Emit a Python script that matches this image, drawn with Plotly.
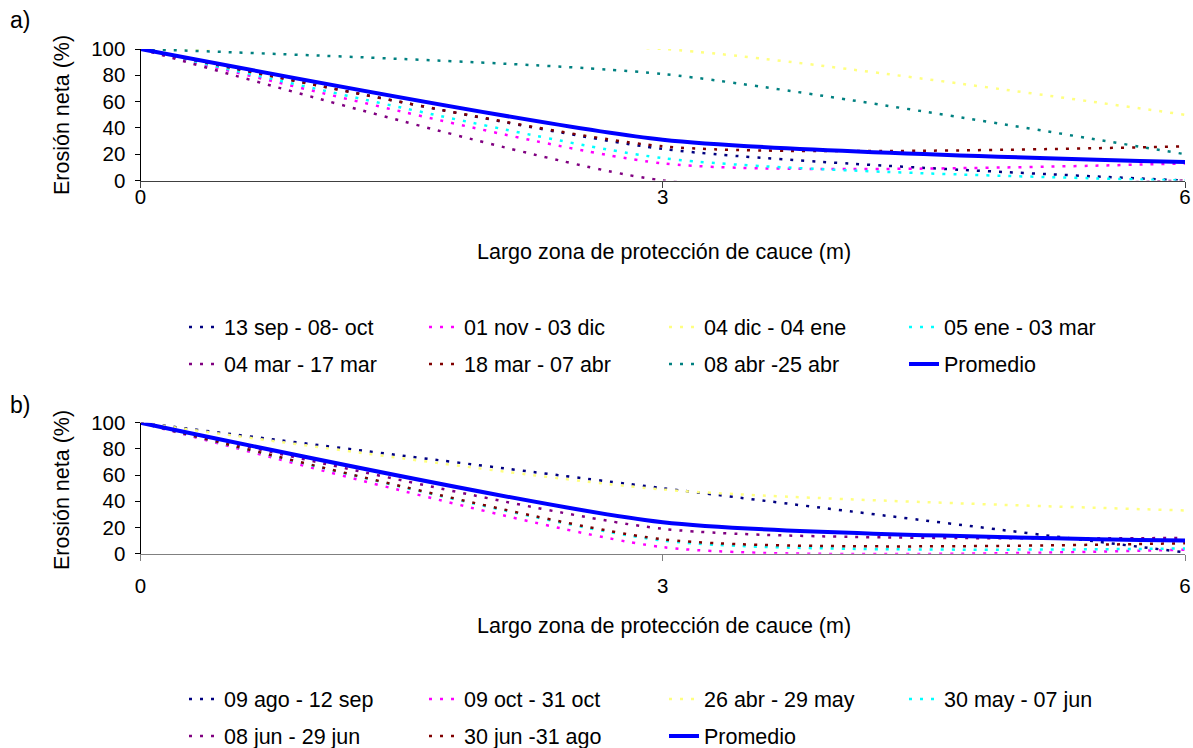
import plotly.graph_objects as go

# ---- data -------------------------------------------------------------
largo_m = [0, 3, 6]

# panel a) series (% net erosion)
a_names = ["13 sep - 08- oct", "01 nov - 03 dic", "04 dic - 04 ene", "05 ene - 03 mar",
           "04 mar - 17 mar", "18 mar - 07 abr", "08 abr -25 abr"]
a_13sep_08oct = [100, 24, 0]
a_01nov_03dic = [100, 13, 13]
a_04dic_04ene = [100, 100, 50]
a_05ene_03mar = [100, 17, 0]
a_04mar_17mar = [100, 0, 0]
a_18mar_07abr = [100, 26, 26]
a_08abr_25abr = [100, 81, 20]
a_promedio = [100, 31, 14]

# panel b) series
b_names = ["09 ago - 12 sep", "09 oct - 31 oct", "26 abr - 29 may", "30 may - 07 jun",
           "08 jun - 29 jun", "30 jun -31 ago"]
b_09ago_12sep = [100, 50, 1]
b_09oct_31oct = [100, 5, 3]
b_26abr_29may = [100, 49, 33]
b_30may_07jun = [100, 10, 4]
b_08jun_29jun = [100, 19, 12]
b_30jun_31ago = [100, 11, 8]
b_promedio = [100, 24, 10]

x_ticks = [0, 3, 6]
y_ticks = [0, 20, 40, 60, 80, 100]

# ---- styling ----------------------------------------------------------
W, H = 1193, 748
FONT = "Liberation Sans, Arial, sans-serif"
a_colors = ["#000080", "#FF00FF", "#FFFF80", "#00FFFF", "#800080", "#800000", "#008080"]
b_colors = ["#000080", "#FF00FF", "#FFFF80", "#00FFFF", "#800080", "#800000"]
DOT = "3px,8px"
SMOOTH = 0.6


def fx(p):
    return p / W


def fy(p):
    return 1 - p / H


fig = go.Figure()

a_series = [a_13sep_08oct, a_01nov_03dic, a_04dic_04ene, a_05ene_03mar,
            a_04mar_17mar, a_18mar_07abr, a_08abr_25abr]
b_series = [b_09ago_12sep, b_09oct_31oct, b_26abr_29may, b_30may_07jun,
            b_08jun_29jun, b_30jun_31ago]

# legend rows: a) row 1 = first four, row 2 = rest + Promedio
for i, (name, vals, col) in enumerate(zip(a_names, a_series, a_colors)):
    fig.add_trace(go.Scatter(
        x=largo_m, y=vals, name=name, mode="lines", xaxis="x", yaxis="y",
        line=dict(color=col, width=2.5, dash=DOT, shape="spline", smoothing=SMOOTH),
        legend="legend" if i < 4 else "legend2"))
fig.add_trace(go.Scatter(
    x=largo_m, y=a_promedio, name="Promedio", mode="lines", xaxis="x", yaxis="y",
    line=dict(color="#0000FF", width=4, shape="spline", smoothing=SMOOTH), legend="legend2"))

for i, (name, vals, col) in enumerate(zip(b_names, b_series, b_colors)):
    fig.add_trace(go.Scatter(
        x=largo_m, y=vals, name=name, mode="lines", xaxis="x2", yaxis="y2",
        line=dict(color=col, width=2.5, dash=DOT, shape="spline", smoothing=SMOOTH),
        legend="legend3" if i < 4 else "legend4"))
fig.add_trace(go.Scatter(
    x=largo_m, y=b_promedio, name="Promedio", mode="lines", xaxis="x2", yaxis="y2",
    line=dict(color="#0000FF", width=4, shape="spline", smoothing=SMOOTH), legend="legend4"))

x_dom = [fx(140.5), fx(1185)]
xaxis_common = dict(range=[0, 6], tickvals=x_ticks, ticks="outside", ticklen=6,
                    showgrid=False, zeroline=False, showline=True, linewidth=1,
                    tickfont=dict(size=20.5, color="black", family=FONT), domain=x_dom,
                    fixedrange=True)
yaxis_common = dict(range=[0, 100], tickvals=y_ticks, ticks="outside", ticklen=5,
                    showgrid=False, zeroline=False, showline=True, linewidth=1,
                    linecolor="black", tickcolor="black",
                    tickfont=dict(size=20.5, color="black", family=FONT),
                    ticklabelstandoff=5, fixedrange=True)


def legend_row(x_px, y_px):
    return dict(orientation="h", x=fx(x_px), xanchor="left", y=fy(y_px), yanchor="middle",
                entrywidth=195, entrywidthmode="pixels", bgcolor="rgba(0,0,0,0)",
                borderwidth=0, font=dict(size=21.5, color="black", family=FONT),
                traceorder="normal")


fig.update_layout(
    width=W, height=H, margin=dict(l=0, r=0, t=0, b=0, autoexpand=False),
    paper_bgcolor="white", plot_bgcolor="white", showlegend=True,
    font=dict(family=FONT, color="black"),
    xaxis=dict(xaxis_common, anchor="y", linecolor="#404040", tickcolor="#404040",
               ticklabelstandoff=-8),
    yaxis=dict(yaxis_common, domain=[fy(180.5), fy(49)], anchor="x"),
    xaxis2=dict(xaxis_common, anchor="y2", linecolor="#808080", tickcolor="#808080",
                ticklabelstandoff=8),
    yaxis2=dict(yaxis_common, domain=[fy(553.7), fy(422.7)], anchor="x2"),
    legend=legend_row(184, 327),
    legend2=legend_row(184, 364),
    legend3=legend_row(184, 699),
    legend4=legend_row(184, 736),
)

ann_font = dict(size=21.5, color="black", family=FONT)
annotations = [
    dict(text="a)", x=fx(8), y=fy(20), xanchor="left", yanchor="middle", font=dict(size=23, color="black", family=FONT)),
    dict(text="b)", x=fx(8), y=fy(405), xanchor="left", yanchor="middle", font=dict(size=23, color="black", family=FONT)),
    dict(text="Erosión neta (%)", x=fx(62), y=fy(115), textangle=-90, xanchor="center", yanchor="middle", font=ann_font),
    dict(text="Erosión neta (%)", x=fx(62), y=fy(490), textangle=-90, xanchor="center", yanchor="middle", font=ann_font),
    dict(text="Largo zona de protección de cauce (m)", x=fx(664), y=fy(252), xanchor="center", yanchor="middle", font=ann_font),
    dict(text="Largo zona de protección de cauce (m)", x=fx(664), y=fy(626), xanchor="center", yanchor="middle", font=ann_font),
]
for a in annotations:
    a.update(xref="paper", yref="paper", showarrow=False)
fig.update_layout(annotations=annotations)

fig.write_html("out.html")
